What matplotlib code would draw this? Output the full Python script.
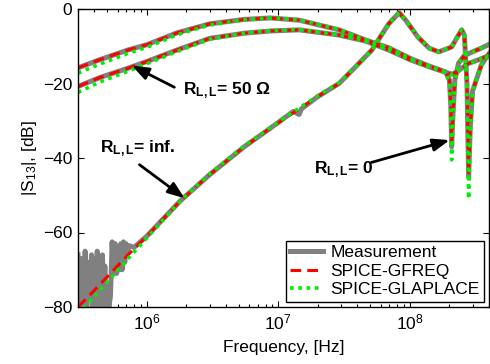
"""|S13| vs frequency for three line terminations: measurement vs two SPICE models."""

import matplotlib

matplotlib.use("Agg")
import matplotlib.pyplot as plt
from matplotlib.ticker import LogLocator, NullFormatter, FixedLocator

plt.rcParams.update(
    {
        "font.family": ["Liberation Sans", "DejaVu Sans"],
        "font.size": 12.5,
        "mathtext.fontset": "custom",
        "mathtext.rm": "Liberation Sans",
        "mathtext.it": "Liberation Sans:italic",
        "mathtext.bf": "Liberation Sans:bold",
        "mathtext.default": "regular",
    }
)

# ---- data ----
# R_L,L = 0 (top curve at low frequency)
freq_r0 = [3.0e5, 4.4e5, 7.2e5, 1.0e6, 1.7e6, 3.0e6, 5.5e6, 8.7e6, 1.44e7, 2.9e7,
           4.6e7, 6.9e7, 1.0e8, 1.4e8, 1.87e8, 2.0e8, 2.05e8, 2.08e8, 2.13e8,
           2.2e8, 2.35e8, 2.6e8, 3.0e8, 3.5e8, 4.0e8]
meas_r0 = [-15.8, -13.6, -11.0, -9.6, -6.4, -4.0, -2.8, -2.4, -3.0, -5.6,
           -8.3, -10.4, -13.2, -15.3, -16.9, -19.0, -26.0, -37.0, -28.0,
           -19.0, -14.5, -12.5, -11.5, -10.5, -9.5]
gfreq_r0 = [-15.8, -13.6, -11.0, -9.6, -6.4, -4.0, -2.8, -2.4, -3.0, -5.6,
            -8.3, -10.4, -13.2, -15.3, -16.9, -19.0, -26.0, -36.0, -28.0,
            -19.0, -14.5, -12.5, -11.5, -10.5, -9.5]
glap_r0 = [-17.2, -14.8, -11.9, -10.3, -6.9, -4.3, -2.9, -2.4, -2.9, -5.5,
           -8.3, -10.4, -13.2, -15.3, -16.9, -19.5, -28.0, -40.5, -29.0,
           -19.5, -14.5, -12.5, -11.5, -10.5, -9.5]

# R_L,L = 50 Ohm
freq_r50 = [3.0e5, 4.4e5, 7.2e5, 1.0e6, 1.7e6, 3.0e6, 5.5e6, 8.7e6, 1.44e7, 2.9e7,
            4.6e7, 6.9e7, 1.0e8, 1.4e8, 1.87e8, 2.1e8, 2.3e8, 2.5e8, 2.8e8,
            3.3e8, 4.0e8]
meas_r50 = [-20.8, -18.4, -15.9, -14.1, -11.0, -7.9, -6.5, -5.9, -5.6, -7.0,
            -8.6, -11.0, -13.6, -15.5, -17.0, -17.5, -16.8, -15.8, -14.6,
            -13.7, -12.5]
gfreq_r50 = [-20.8, -18.4, -15.9, -14.1, -11.0, -7.9, -6.5, -5.9, -5.6, -7.0,
             -8.6, -11.0, -13.6, -15.5, -17.0, -17.5, -16.8, -15.8, -14.6,
             -13.7, -12.5]
glap_r50 = [-22.4, -19.6, -16.7, -14.7, -11.4, -8.1, -6.5, -5.8, -5.5, -6.9,
            -8.6, -11.0, -13.6, -15.5, -17.0, -17.6, -16.8, -15.8, -14.6,
            -13.7, -12.5]

# R_L,L = inf.
freq_rinf = [3.0e5, 4.4e5, 7.2e5, 1.0e6, 1.8e6, 3.0e6, 5.5e6, 8.7e6, 1.44e7, 2.0e7,
             2.9e7, 4.0e7, 5.15e7, 6.9e7, 8.3e7, 9.3e7, 1.15e8, 1.4e8, 1.66e8,
             2.08e8, 2.3e8, 2.48e8, 2.6e8, 2.72e8, 2.8e8, 2.88e8, 3.0e8, 3.5e8,
             4.0e8]
gfreq_rinf = [-80.0, -74.0, -66.0, -61.0, -51.5, -44.5, -37.0, -32.0, -26.8, -23.5,
              -20.0, -15.0, -11.0, -4.0, -1.0, -3.0, -7.5, -10.5, -11.5,
              -10.2, -7.5, -5.6, -7.0, -20.0, -44.0, -32.0, -22.0, -15.0,
              -12.0]
glap_rinf = [-82.0, -75.5, -67.0, -61.5, -51.5, -44.3, -36.8, -31.8, -26.6, -23.3,
             -19.8, -15.0, -11.0, -4.0, -1.0, -3.0, -7.5, -10.5, -11.5,
             -10.2, -7.5, -5.6, -7.0, -22.0, -51.0, -34.0, -22.0, -15.0,
             -12.0]
# measurement: noisy floor below ~8e5 Hz, then it follows the model
freq_meas_rinf = [3.0e5, 3.1e5, 3.2e5, 3.3e5, 3.4e5, 3.5e5, 3.6e5, 3.7e5, 3.8e5,
                  3.9e5, 4.0e5, 4.1e5, 4.2e5, 4.3e5, 4.4e5, 4.5e5, 4.6e5, 4.7e5,
                  4.8e5, 4.9e5, 5.0e5, 5.15e5, 5.3e5, 5.45e5, 5.6e5, 5.75e5,
                  5.9e5, 6.05e5, 6.2e5, 6.35e5, 6.5e5, 6.65e5, 6.8e5, 6.95e5,
                  7.1e5, 7.3e5, 8.0e5, 1.0e6, 1.8e6, 3.0e6, 5.5e6, 8.7e6, 1.3e7,
                  1.44e7, 1.5e7, 2.0e7, 2.9e7, 4.0e7, 5.15e7, 6.9e7, 8.3e7,
                  9.3e7, 1.15e8, 1.4e8, 1.66e8, 2.08e8, 2.3e8, 2.48e8, 2.6e8,
                  2.72e8, 2.8e8, 2.88e8, 3.0e8, 3.5e8, 4.0e8]
meas_rinf = [-66.0, -80.0, -67.0, -79.0, -65.0, -80.0, -68.0, -78.0, -66.0,
             -80.0, -67.0, -80.0, -65.0, -79.0, -70.0, -80.0, -66.0, -78.0,
             -69.0, -80.0, -74.0, -80.0, -77.0, -62.5, -71.0, -63.0,
             -71.0, -64.0, -70.0, -63.0, -70.0, -62.5, -68.0, -63.0,
             -66.0, -63.5, -64.0, -61.0, -51.5, -44.5, -37.0, -32.0, -27.5,
             -28.3, -26.8, -23.5, -20.0, -15.0, -11.0, -4.0, -1.0,
             -3.0, -7.5, -10.5, -11.5, -10.2, -7.5, -5.6, -7.0,
             -20.0, -45.0, -32.0, -22.0, -15.0, -12.0]

y_ticks = [-80, -60, -40, -20, 0]

# ---- plot ----
fig = plt.figure(figsize=(4.9, 3.64), dpi=100)
ax = fig.add_axes([78 / 490, 1 - 307 / 364, 411 / 490, 298 / 364])

grey = "#808080"
red = "#ff0000"
green = "#00ee00"
meas_kw = dict(color=grey, lw=3.6, solid_joinstyle="round")
red_kw = dict(color=red, lw=2.2, dashes=(3.5, 2.0))
green_kw = dict(color=green, lw=2.6, dashes=(1.0, 1.3))

ax.semilogx(freq_r0, meas_r0, **meas_kw)
ax.semilogx(freq_r50, meas_r50, **meas_kw)
ax.semilogx(freq_meas_rinf, meas_rinf, label="Measurement", **meas_kw)
ax.semilogx(freq_r0, gfreq_r0, **red_kw)
ax.semilogx(freq_r50, gfreq_r50, **red_kw)
ax.semilogx(freq_rinf, gfreq_rinf, label="SPICE-GFREQ", **red_kw)
ax.semilogx(freq_r0, glap_r0, **green_kw)
ax.semilogx(freq_r50, glap_r50, **green_kw)
ax.semilogx(freq_rinf, glap_rinf, label="SPICE-GLAPLACE", **green_kw)

ax.set_xlim(3e5, 4e8)
ax.set_ylim(-80, 0)
ax.yaxis.set_major_locator(FixedLocator(y_ticks))
ax.xaxis.set_major_locator(LogLocator(base=10))
ax.xaxis.set_minor_locator(LogLocator(base=10, subs=range(2, 10)))
ax.xaxis.set_minor_formatter(NullFormatter())
ax.tick_params(which="both", direction="in", top=True, right=True, pad=4)
ax.tick_params(which="major", length=4, width=0.8)
ax.tick_params(which="minor", length=2, width=0.8)
for s in ax.spines.values():
    s.set_linewidth(1.0)

ax.set_xlabel("Frequency, [Hz]")
ax.set_ylabel("|S$_{13}$|, [dB]")
ax.xaxis.set_label_coords(0.5, -0.112)
ax.yaxis.set_label_coords(-0.095, 0.5)

leg = ax.legend(loc="lower right", fancybox=False, framealpha=1, edgecolor="black",
                handlelength=1.9, labelspacing=0.2, borderpad=0.25,
                handletextpad=0.4, borderaxespad=0.3)
leg.get_frame().set_linewidth(1.0)

# annotations
arrow = dict(arrowstyle="-|>,head_length=0.8,head_width=0.3", color="black", lw=2.0,
             shrinkA=0, shrinkB=0)
ax.annotate("", xy=(7.7e5, -15.2), xytext=(1.62e6, -21.0), arrowprops=arrow)
ax.text(1.9e6, -22.0, "R$_{\\mathbf{L,L}}$= 50 \u03a9", fontweight="bold",
        ha="left", va="center")
ax.annotate("", xy=(1.94e6, -50.8), xytext=(8.8e5, -41.8), arrowprops=arrow)
ax.text(4.4e5, -37.5, "R$_{\\mathbf{L,L}}$= inf.", fontweight="bold",
        ha="left", va="center")
ax.annotate("", xy=(2.01e8, -35.2), xytext=(5.1e7, -41.2), arrowprops=arrow)
ax.text(1.87e7, -43.2, "R$_{\\mathbf{L,L}}$= 0", fontweight="bold",
        ha="left", va="center")

fig.savefig("out.png", dpi=100)
